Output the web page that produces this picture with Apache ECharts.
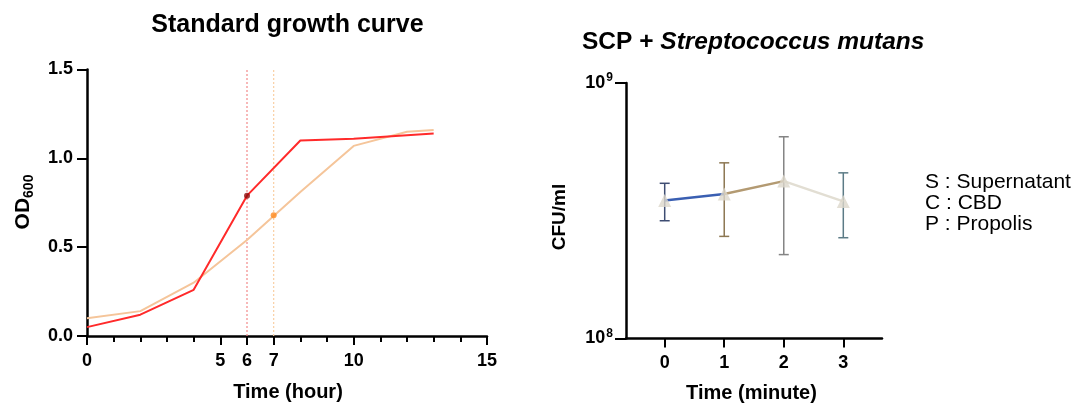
<!DOCTYPE html>
<html>
<head>
<meta charset="utf-8">
<script src="https://cdn.jsdelivr.net/npm/echarts@6/dist/echarts.min.js"></script>
<style>
  html, body { margin: 0; padding: 0; background: #fff; }
  #chart { width: 1077px; height: 405px; }
</style>
</head>
<body>
<div id="chart"></div>
<script>
// ---- Left panel data: standard growth curve ----
const redHours = [0, 2, 4, 6, 8, 10, 13];
const redOD = [0.05, 0.12, 0.26, 0.79, 1.10, 1.11, 1.14];
const orangeHours = [0, 2, 4, 6, 8, 10, 12, 13];
const orangeOD = [0.10, 0.14, 0.30, 0.54, 0.81, 1.07, 1.15, 1.16];
const markHours = [6, 7];
const markOD = [0.79, 0.68];
const hourLabels = [0, 5, 6, 7, 10, 15];

// ---- Right panel data: SCP + Streptococcus mutans ----
const minutes = [0, 1, 2, 3];
const cfuMean = [3.47e8, 3.68e8, 4.13e8, 3.44e8];
const cfuLow = [2.89e8, 2.51e8, 2.13e8, 2.48e8];
const cfuHigh = [4.05e8, 4.87e8, 6.16e8, 4.45e8];
const notes = ['S : Supernatant', 'C : CBD', 'P : Propolis'];

const FONT = '"Liberation Sans", Arial, Helvetica, sans-serif';
const segColors = ['#3A5FB2', '#B39A72', '#E2DED3'];
const errColors = ['#3E4D72', '#8C7752', '#848484', '#5C7B86'];

const chart = echarts.init(document.getElementById('chart'), null, { renderer: 'canvas' });

const redData = redHours.map((h, i) => [h, redOD[i]]);
const orangeData = orangeHours.map((h, i) => [h, orangeOD[i]]);
const meanData = minutes.map((m, i) => [m, cfuMean[i]]);
const errData = minutes.map((m, i) => [m, cfuLow[i], cfuHigh[i]]);

const segSeries = [0, 1, 2].map(i => ({
  type: 'line',
  xAxisIndex: 2, yAxisIndex: 1,
  data: [meanData[i], meanData[i + 1]],
  showSymbol: false,
  lineStyle: { color: segColors[i], width: 2.5 },
  silent: true, animation: false, z: 3
}));

const option = {
  animation: false,
  backgroundColor: '#fff',
  textStyle: { fontFamily: FONT },
  grid: [
    { left: 87, top: 69.5, width: 400, height: 266.5 },
    { left: 626, top: 83, width: 256, height: 255.5 }
  ],
  xAxis: [
    {
      type: 'value', gridIndex: 0, min: 0, max: 15, position: 'bottom',
      axisLine: { show: true, onZero: false, lineStyle: { color: '#000', width: 2.5 } },
      axisTick: { show: true, customValues: hourLabels, length: 9, lineStyle: { color: '#000', width: 2 } },
      axisLabel: { customValues: hourLabels, color: '#000', fontSize: 18, fontWeight: 'bold', margin: 16, fontFamily: FONT },
      splitLine: { show: false }
    },
    {
      type: 'value', gridIndex: 0, min: 0, max: 15, interval: 1, position: 'bottom',
      axisLine: { show: false, onZero: false },
      axisTick: { show: true, length: 6, lineStyle: { color: '#000', width: 2 } },
      axisLabel: { show: false },
      splitLine: { show: false }
    },
    {
      type: 'value', gridIndex: 1, min: -0.65, max: 3.65, position: 'bottom',
      axisLine: { show: true, onZero: false, lineStyle: { color: '#000', width: 2.5 } },
      axisTick: { show: true, customValues: minutes, length: 9, lineStyle: { color: '#000', width: 2 } },
      axisLabel: { customValues: minutes, color: '#000', fontSize: 18, fontWeight: 'bold', margin: 16, fontFamily: FONT },
      splitLine: { show: false }
    }
  ],
  yAxis: [
    {
      type: 'value', gridIndex: 0, min: 0, max: 1.5, interval: 0.5,
      axisLine: { show: true, onZero: false, lineStyle: { color: '#000', width: 2.5 } },
      axisTick: { show: true, length: 10, lineStyle: { color: '#000', width: 2 } },
      axisLabel: { color: '#000', fontSize: 18, fontWeight: 'bold', margin: 14, fontFamily: FONT,
        formatter: v => v.toFixed(1) },
      splitLine: { show: false }
    },
    {
      type: 'log', gridIndex: 1, logBase: 10, min: 1e8, max: 1e9,
      axisLine: { show: true, onZero: false, lineStyle: { color: '#000', width: 2.5 } },
      axisTick: { show: true, length: 11, lineStyle: { color: '#000', width: 2 } },
      axisLabel: {
        color: '#000', margin: 13, fontFamily: FONT,
        formatter: v => '{b|10}{s|' + Math.round(Math.log10(v)) + '}',
        rich: {
          b: { fontSize: 18, fontWeight: 'bold', color: '#000', fontFamily: FONT, lineHeight: 22 },
          s: { fontSize: 12, fontWeight: 'bold', color: '#000', fontFamily: FONT, verticalAlign: 'top', lineHeight: 13, padding: [0, 0, 6, 1] }
        }
      },
      splitLine: { show: false }
    }
  ],
  graphic: [
    { type: 'text', x: 287.5, y: 25, style: { text: 'Standard growth curve', font: 'bold 25px ' + FONT, fill: '#000', align: 'center', verticalAlign: 'middle' } },
    { type: 'text', x: 582, y: 42, style: {
        text: '{n|SCP + }{i|Streptococcus mutans}', align: 'left', verticalAlign: 'middle',
        rich: {
          n: { fontSize: 24.5, fontWeight: 'bold', fontFamily: FONT, fill: '#000' },
          i: { fontSize: 24.5, fontWeight: 'bold', fontStyle: 'italic', fontFamily: FONT, fill: '#000' }
        } } },
    { type: 'text', x: 288, y: 392, style: { text: 'Time (hour)', font: 'bold 20px ' + FONT, fill: '#000', align: 'center', verticalAlign: 'middle' } },
    { type: 'text', x: 751.5, y: 393, style: { text: 'Time (minute)', font: 'bold 20px ' + FONT, fill: '#000', align: 'center', verticalAlign: 'middle' } },
    { type: 'text', x: 23, y: 202, rotation: Math.PI / 2, style: {
        text: '{a|OD}{b|600}', align: 'center', verticalAlign: 'middle',
        rich: {
          a: { fontSize: 21, fontWeight: 'bold', fontFamily: FONT, fill: '#000', lineHeight: 26 },
          b: { fontSize: 14, fontWeight: 'bold', fontFamily: FONT, fill: '#000', lineHeight: 14, verticalAlign: 'bottom' }
        } } },
    { type: 'text', x: 560, y: 217, rotation: Math.PI / 2, style: { text: 'CFU/ml', font: 'bold 19px ' + FONT, fill: '#000', align: 'center', verticalAlign: 'middle' } },
    ...notes.map((t, i) => ({ type: 'text', x: 925, y: 182 + i * 21, style: { text: t, font: '21px ' + FONT, fill: '#000', align: 'left', verticalAlign: 'middle' } }))
  ],
  series: [
    {
      type: 'line', xAxisIndex: 0, yAxisIndex: 0,
      data: [[markHours[0], 0], [markHours[0], 1.5]],
      showSymbol: false, lineStyle: { color: '#F28A8A', width: 1.2, type: [2, 2] }, silent: true, z: 1
    },
    {
      type: 'line', xAxisIndex: 0, yAxisIndex: 0,
      data: [[markHours[1], 0], [markHours[1], 1.5]],
      showSymbol: false, lineStyle: { color: '#F9CFA4', width: 1.2, type: [2, 2] }, silent: true, z: 1
    },
    {
      type: 'line', xAxisIndex: 0, yAxisIndex: 0, data: orangeData,
      showSymbol: false, lineStyle: { color: '#F5C59A', width: 2 }, silent: true, z: 2
    },
    {
      type: 'line', xAxisIndex: 0, yAxisIndex: 0, data: redData,
      showSymbol: false, lineStyle: { color: '#FF2A2A', width: 2 }, silent: true, z: 3
    },
    {
      type: 'scatter', xAxisIndex: 0, yAxisIndex: 0,
      data: markHours.map((h, i) => ({ value: [h, markOD[i]], itemStyle: { color: i === 0 ? '#8E0A0A' : '#FF8A1E' } })),
      symbolSize: 6, silent: true, z: 5
    },
    {
      type: 'custom', xAxisIndex: 2, yAxisIndex: 1, data: errData, silent: true, z: 2,
      renderItem: function (params, api) {
        const x = api.value(0);
        const top = api.coord([x, api.value(2)]);
        const bot = api.coord([x, api.value(1)]);
        const w = 5;
        const st = { stroke: errColors[params.dataIndex], lineWidth: 1.5 };
        return {
          type: 'group',
          children: [
            { type: 'line', shape: { x1: top[0], y1: top[1], x2: bot[0], y2: bot[1] }, style: st },
            { type: 'line', shape: { x1: top[0] - w, y1: top[1], x2: top[0] + w, y2: top[1] }, style: st },
            { type: 'line', shape: { x1: bot[0] - w, y1: bot[1], x2: bot[0] + w, y2: bot[1] }, style: st }
          ]
        };
      }
    },
    ...segSeries,
    {
      type: 'scatter', xAxisIndex: 2, yAxisIndex: 1, data: meanData,
      symbol: 'triangle', symbolSize: 13, itemStyle: { color: '#DCD7CB' }, silent: true, z: 6
    }
  ]
};

chart.setOption(option);
</script>
</body>
</html>
